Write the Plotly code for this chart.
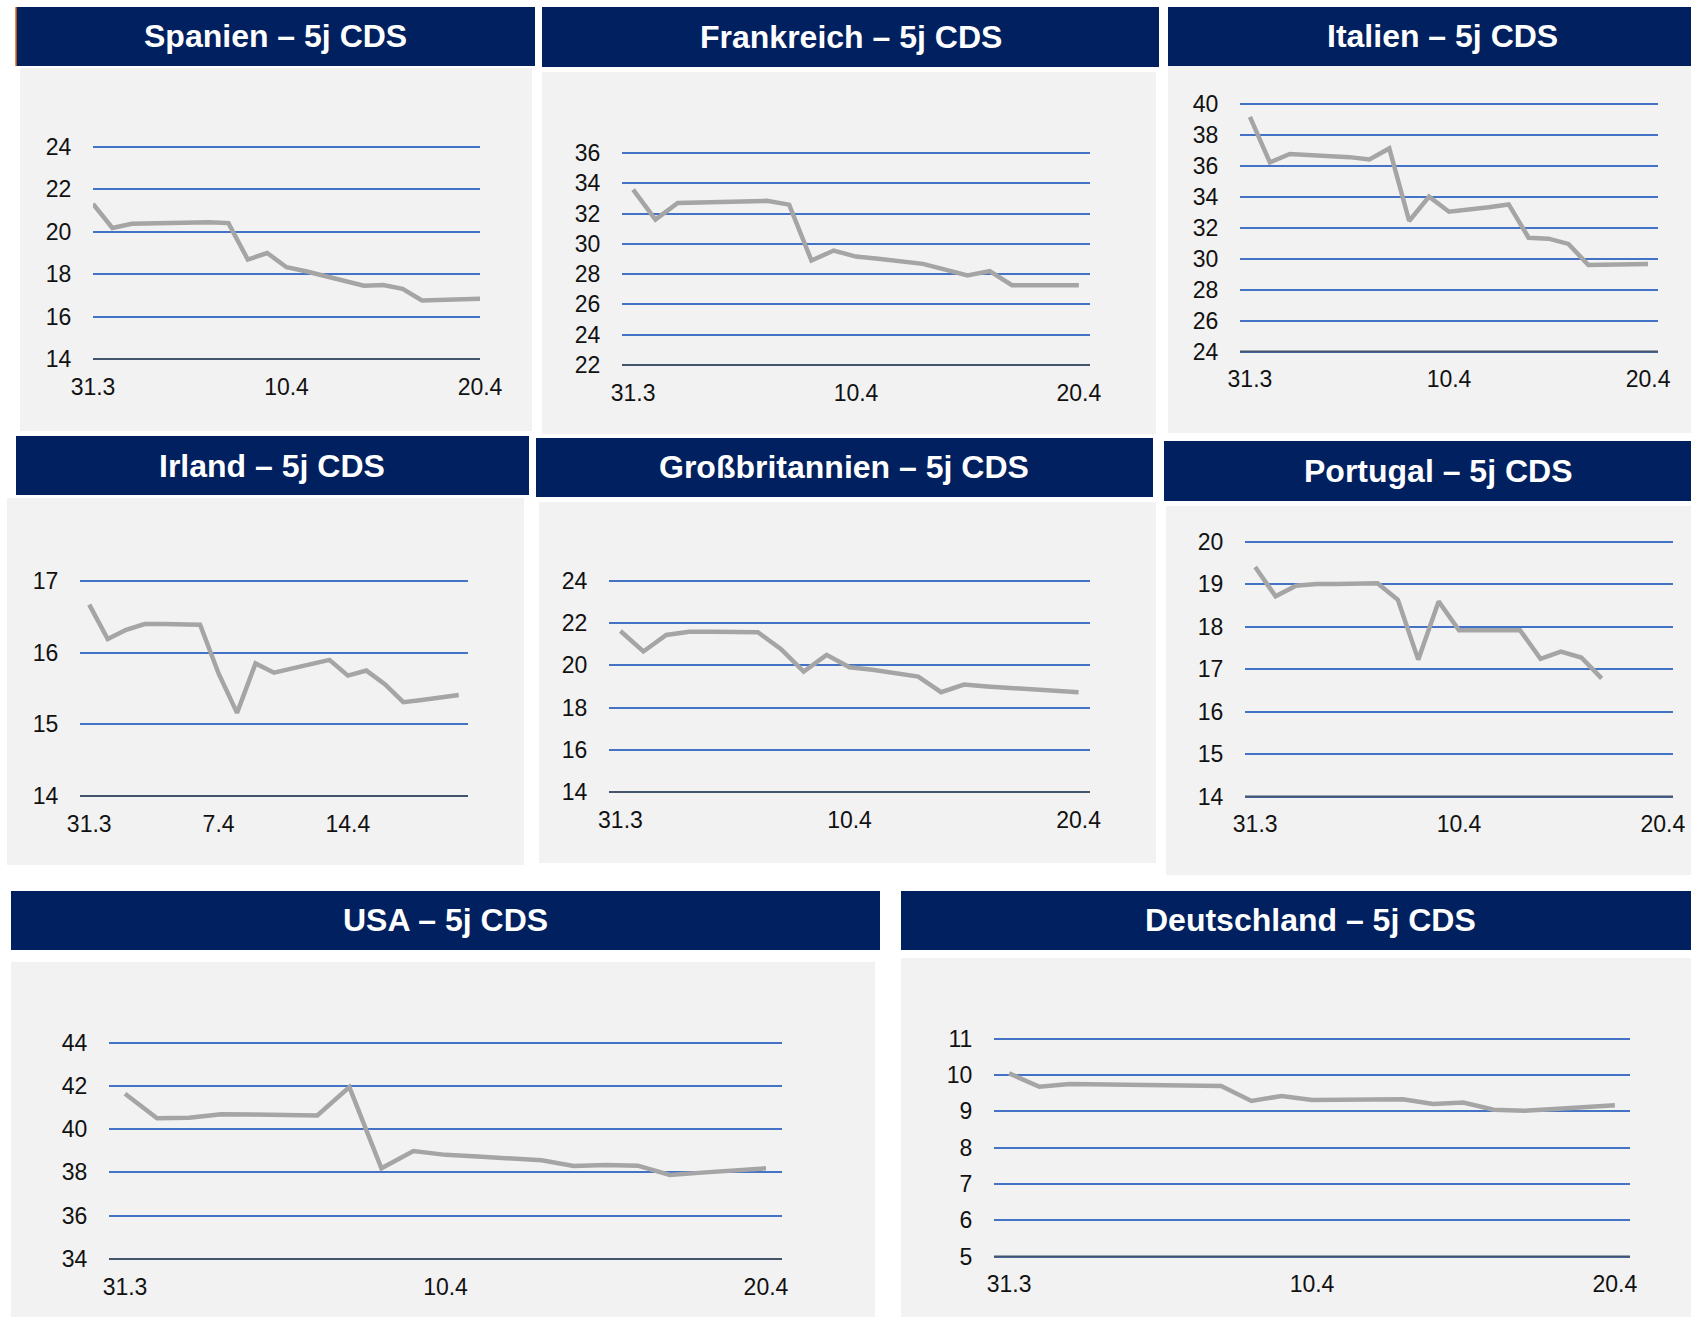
import plotly.graph_objects as go

W, H = 1691, 1317

# ---------------- data ----------------
dates = ["31.3", "1.4", "2.4", "3.4", "4.4", "5.4", "6.4", "7.4", "8.4", "9.4", "10.4",
         "11.4", "12.4", "13.4", "14.4", "15.4", "16.4", "17.4", "18.4", "19.4", "20.4"]

spanien = [21.32, 20.18, 20.38, 20.41, 20.43, 20.44, 20.45, 20.41, 18.69, 19.00, 18.33,
           18.14, 17.93, 17.71, 17.46, 17.49, 17.31, 16.76, 16.77, 16.81, 16.84]
frankreich = [33.58, 31.60, 32.70, 32.75, 32.79, 32.81, 32.84, 32.59, 28.90, 29.56, 29.16,
              29.01, 28.86, 28.68, 28.30, 27.91, 28.20, 27.27, 27.27, 27.27, 27.27]
italien = [39.14, 36.20, 36.74, 36.69, 36.63, 36.54, 36.39, 37.10, 32.42, 33.99, 33.02,
           33.15, 33.30, 33.49, 31.34, 31.28, 30.94, 29.58, 29.61, 29.63, 29.65]
irland = [16.67, 16.19, 16.32, 16.40, 16.40, 16.40, 16.39, 15.71, 15.16, 15.85, 15.72,
          15.78, 15.84, 15.90, 15.68, 15.75, 15.56, 15.31, 15.34, 15.37, 15.41]
grossbritannien = [21.63, 20.66, 21.44, 21.59, 21.59, 21.57, 21.57, 20.78, 19.71, 20.50, 19.91,
                   19.79, 19.63, 19.47, 18.73, 19.09, 19.00, 18.92, 18.86, 18.79, 18.73]
portugal = [19.40, 18.71, 18.96, 19.00, 19.00, 19.01, 19.02, 18.63, 17.22, 18.59, 17.91,
            17.91, 17.91, 17.91, 17.24, 17.41, 17.27, 16.78]
usa = [41.63, 40.50, 40.53, 40.69, 40.67, 40.66, 40.63, 41.94, 38.19, 38.99, 38.81,
       38.73, 38.65, 38.56, 38.30, 38.34, 38.31, 37.88, 37.99, 38.10, 38.19]
deutschland = [10.04, 9.67, 9.75, 9.74, 9.73, 9.73, 9.72, 9.69, 9.28, 9.42, 9.31,
               9.31, 9.32, 9.33, 9.20, 9.24, 9.04, 9.01, 9.06, 9.12, 9.16]

titles = ["Spanien – 5j CDS", "Frankreich – 5j CDS", "Italien – 5j CDS",
          "Irland – 5j CDS", "Großbritannien – 5j CDS", "Portugal – 5j CDS",
          "USA – 5j CDS", "Deutschland – 5j CDS"]
series = [spanien, frankreich, italien, irland, grossbritannien, portugal, usa, deutschland]

y_ranges = [(14, 24, 2), (22, 36, 2), (24, 40, 2), (14, 17, 1),
            (14, 24, 2), (14, 20, 1), (34, 44, 2), (5, 11, 1)]
x_ticks_std = ["31.3", "10.4", "20.4"]
x_ticks_irland = ["31.3", "7.4", "14.4"]
x_tick_sets = [x_ticks_std, x_ticks_std, x_ticks_std, x_ticks_irland,
               x_ticks_std, x_ticks_std, x_ticks_std, x_ticks_std]

# ---------------- geometry (pixels) ----------------
geom = [
    dict(banner=(16, 535, 7, 66), panel=(20, 532, 68, 431), plot=(93, 480, 147, 359), tx=275, xr=(0, 20)),
    dict(banner=(542, 1159, 7, 67), panel=(542, 1156, 72, 434), plot=(622, 1090, 153, 365), tx=851, xr=(-0.5, 20.5)),
    dict(banner=(1168, 1691, 7, 66), panel=(1168, 1691, 66, 433), plot=(1240, 1658, 103.5, 351.5), tx=1442, xr=(-0.5, 20.5)),
    dict(banner=(16, 529, 436, 495), panel=(7, 524, 498, 865), plot=(80, 468, 581, 796), tx=272, xr=(-0.5, 20.5)),
    dict(banner=(536, 1153, 438, 497), panel=(539, 1156, 502, 863), plot=(609, 1090, 581, 792), tx=844, xr=(-0.5, 20.5)),
    dict(banner=(1164, 1691, 441, 501), panel=(1166, 1691, 506, 875), plot=(1245, 1673, 541.5, 796.5), tx=1438, xr=(-0.5, 20.5)),
    dict(banner=(11, 880, 891, 950), panel=(11, 875, 962, 1317), plot=(109, 782, 1042.5, 1259), tx=445, xr=(-0.5, 20.5)),
    dict(banner=(901, 1691, 891, 950), panel=(901, 1691, 958, 1317), plot=(994, 1630, 1038.5, 1256.5), tx=1310, xr=(-0.5, 20.5)),
]

NAVY = "#002060"
PANEL = "#F2F2F2"
GRID = "#4472C4"
AXIS = "#44546A"
LINE = "#A5A5A5"
FONT = "Liberation Sans, Arial, sans-serif"
PAD = 4  # px of padding so the edge gridlines are drawn

fig = go.Figure()
shapes = []
annotations = []
layout_axes = {}


def px_x(v):
    return v / W


def px_y(v):
    return 1 - v / H


for i, (vals, g, yr, tv, title) in enumerate(zip(series, geom, y_ranges, x_tick_sets, titles)):
    n = "" if i == 0 else str(i + 1)
    px0, px1, py0, py1 = g["panel"]
    shapes.append(dict(type="rect", xref="paper", yref="paper", layer="below",
                       x0=px_x(px0), x1=px_x(px1), y0=px_y(py1), y1=px_y(py0),
                       fillcolor=PANEL, line=dict(width=0)))
    bx0, bx1, by0, by1 = g["banner"]
    shapes.append(dict(type="rect", xref="paper", yref="paper", layer="below",
                       x0=px_x(bx0), x1=px_x(bx1), y0=px_y(by1), y1=px_y(by0),
                       fillcolor=NAVY, line=dict(width=0)))
    annotations.append(dict(text="<b>" + title + "</b>", xref="paper", yref="paper",
                            x=px_x(g["tx"]), y=px_y((by0 + by1) / 2),
                            xanchor="center", yanchor="middle", showarrow=False,
                            font=dict(family=FONT, size=32, color="white")))

    fig.add_trace(go.Scatter(x=dates[:len(vals)], y=vals, mode="lines",
                             line=dict(color=LINE, width=4.5),
                             xaxis="x" + n, yaxis="y" + n, cliponaxis=False,
                             hoverinfo="skip", showlegend=False))

    x0, x1, yt, yb = g["plot"]
    lo, hi, step = yr
    upp = (hi - lo) / (yb - yt)
    pad_u = PAD * upp
    layout_axes["xaxis" + n] = dict(
        domain=[px_x(x0), px_x(x1)], anchor="y" + n, type="category",
        categoryorder="array", categoryarray=dates, range=list(g["xr"]),
        tickmode="array", tickvals=tv, ticktext=tv, automargin=False,
        showgrid=False, zeroline=False, showline=False,
        ticks="outside", ticklen=3, tickcolor="rgba(0,0,0,0)",
        tickfont=dict(family=FONT, size=23, color="#111111"), fixedrange=True)
    layout_axes["yaxis" + n] = dict(
        domain=[px_y(yb + PAD), px_y(yt - PAD)], anchor="x" + n,
        range=[lo - pad_u, hi + pad_u], automargin=False,
        tickmode="linear", tick0=lo, dtick=step,
        showgrid=True, gridcolor=GRID, gridwidth=2, zeroline=False, showline=False,
        ticks="outside", ticklen=16, tickcolor="rgba(0,0,0,0)",
        tickfont=dict(family=FONT, size=23, color="#111111"), fixedrange=True)
    # dark base line at the lowest value
    shapes.append(dict(type="line", xref="x" + n + " domain", yref="y" + n, layer="above",
                       x0=0, x1=1, y0=lo, y1=lo, line=dict(color=AXIS, width=2.2)))

shapes.append(dict(type="line", xref="paper", yref="paper", layer="above",
                   x0=px_x(16), x1=px_x(16), y0=px_y(66), y1=px_y(7),
                   line=dict(color="#E46C0A", width=1.5)))

fig.update_layout(
    width=W, height=H, margin=dict(l=0, r=0, t=0, b=0, pad=0, autoexpand=False),
    paper_bgcolor="white", plot_bgcolor="rgba(0,0,0,0)",
    shapes=shapes, annotations=annotations, showlegend=False,
    **layout_axes)

pin = ("document.body.style.margin='0';"
       "var d=document.getElementById('{plot_id}');"
       "d.style.position='fixed';d.style.left='0px';d.style.top='0px';")

fig.write_html("out.html", config={"displayModeBar": False, "staticPlot": True},
               post_script=pin)
